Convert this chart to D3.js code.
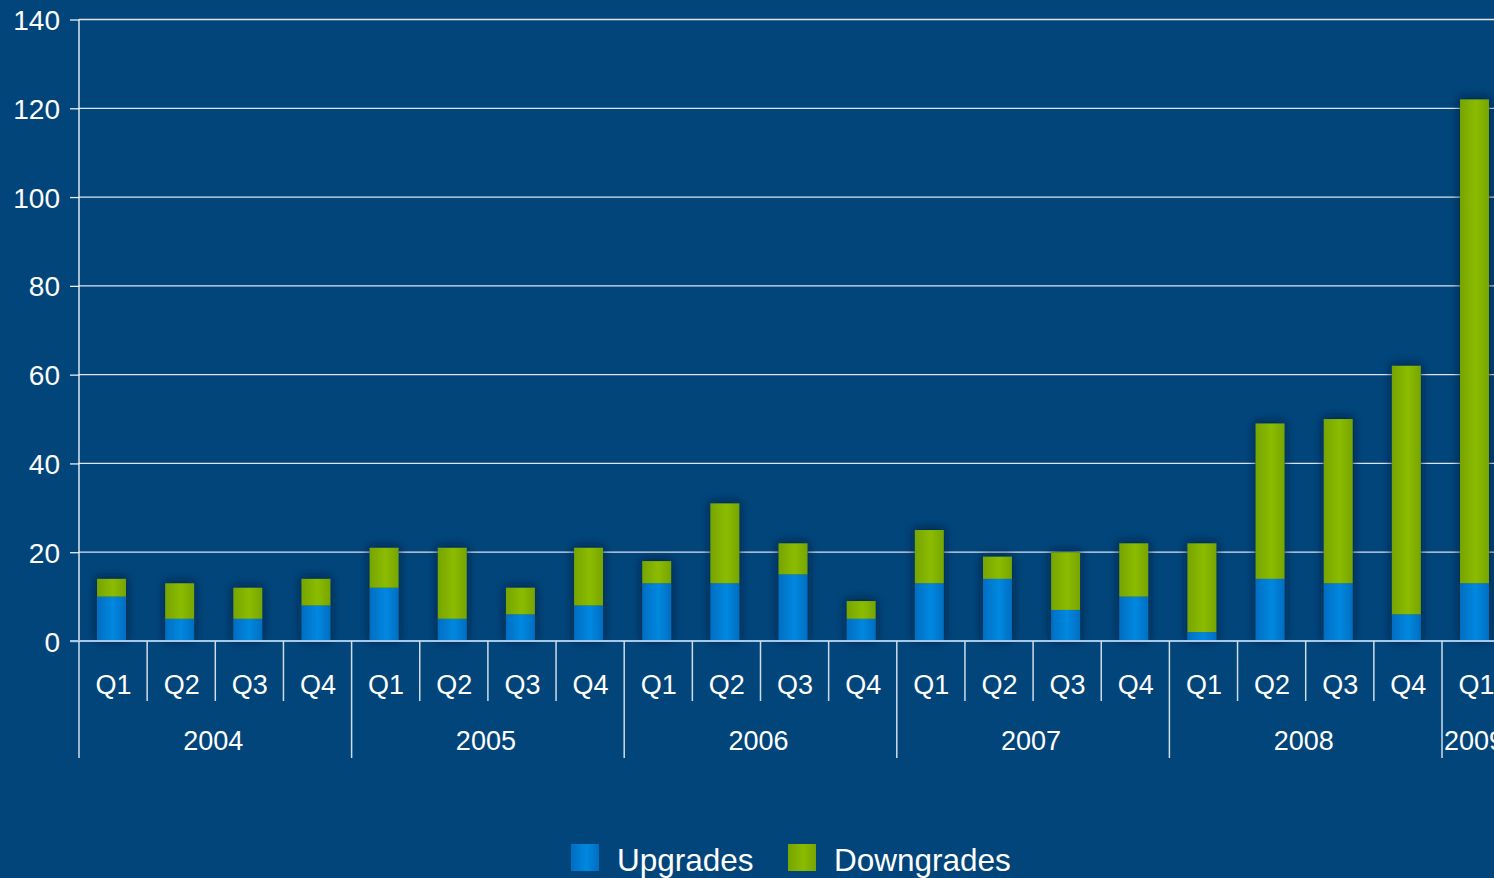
<!DOCTYPE html>
<html>
<head>
<meta charset="utf-8">
<script src="https://cdn.jsdelivr.net/npm/d3@7/dist/d3.min.js"></script>
<style>
body {
	margin: 0;
	background: #01457a;
	font-family: "Liberation Sans", Arial, sans-serif;
}
svg { display: block; }
.y-axis path { display: none; }
</style>
</head>
<body>
<svg id="chart" width="1494" height="878"></svg>
<script>
// 数据
var years = ["2004", "2005", "2006", "2007", "2008", "2009"];
var quarters = ["Q1", "Q2", "Q3", "Q4"];
var yearQuarterCount = [4, 4, 4, 4, 4, 1];
var upgrades   = [10, 5, 5, 8,  12, 5, 6, 8,  13, 13, 15, 5,  13, 14, 7, 10,  2, 14, 13, 6,  13];
var downgrades = [4, 8, 7, 6,   9, 16, 6, 13,  5, 18, 7, 4,   12, 5, 13, 12,  20, 35, 37, 56,  109];
var yTicks = [0, 20, 40, 60, 80, 100, 120, 140];
var seriesNames = ["Upgrades", "Downgrades"];

// 每个柱子的类别 (年-季度)
var periods = [];
years.forEach(function(y, i) {
    for (var q = 0; q < yearQuarterCount[i]; q++) {
        periods.push({year: y, q: quarters[q], key: y + "-" + quarters[q]});
    }
});

var svg = d3.select("#chart");
var plotLeft = 79, plotTop = 19.5, zeroY = 641;
var step = 68.15;
var plotRight = plotLeft + step * periods.length;

var x = d3.scaleBand()
    .domain(periods.map(function(d) { return d.key; }))
    .range([plotLeft, plotRight])
    .paddingInner(0.575)
    .paddingOuter(0.2875)
    .align(0.46);

var y = d3.scaleLinear()
    .domain([0, 140])
    .range([zeroY, plotTop]);

// 渐变和阴影
var defs = svg.append("defs");
function makeGrad(id, edge, mid) {
    var g = defs.append("linearGradient").attr("id", id)
        .attr("x1", "0%").attr("x2", "100%").attr("y1", "0%").attr("y2", "0%");
    g.append("stop").attr("offset", "0%").attr("stop-color", edge);
    g.append("stop").attr("offset", "55%").attr("stop-color", mid);
    g.append("stop").attr("offset", "100%").attr("stop-color", edge);
}
makeGrad("gUp", "#006ec2", "#0088e0");
makeGrad("gDown", "#78a400", "#8cbc00");
var f = defs.append("filter").attr("id", "shadow")
    .attr("x", "-50%").attr("y", "-50%").attr("width", "200%").attr("height", "200%");
f.append("feDropShadow").attr("dx", 0).attr("dy", -1).attr("stdDeviation", 5)
    .attr("flood-color", "#00172e").attr("flood-opacity", 0.85);

// 网格线
svg.append("g").selectAll("line")
    .data(yTicks.filter(function(d) { return d > 0; }))
    .enter().append("line")
    .attr("x1", plotLeft).attr("x2", 1494)
    .attr("y1", function(d) { return y(d); })
    .attr("y2", function(d) { return y(d); })
    .attr("stroke", "#dce6f2")
    .attr("stroke-width", 1.3);

// y轴
var yAxis = svg.append("g")
    .attr("class", "y-axis")
    .attr("transform", "translate(" + plotLeft + ",0)")
    .call(d3.axisLeft(y).tickValues(yTicks).tickSize(9).tickPadding(10));
yAxis.selectAll("line").attr("stroke", "#e8eef5").attr("stroke-width", 1.3);
yAxis.selectAll("text")
    .attr("fill", "#ffffff")
    .attr("font-size", 28)
    .attr("font-family", "'Liberation Sans', Arial, sans-serif")
    .attr("dy", "0.36em");
svg.append("line")
    .attr("x1", plotLeft).attr("x2", plotLeft)
    .attr("y1", y(140)).attr("y2", zeroY)
    .attr("stroke", "#ffffff").attr("stroke-width", 1.3);

// 堆叠柱
var stackData = periods.map(function(d, i) {
    return {key: d.key, Upgrades: upgrades[i], Downgrades: downgrades[i]};
});
var stacked = d3.stack().keys(seriesNames)(stackData);
var fills = {Upgrades: "url(#gUp)", Downgrades: "url(#gDown)"};

var barG = svg.append("g");
// 阴影层
barG.selectAll("rect.shadow")
    .data(stackData)
    .enter().append("rect")
    .attr("class", "shadow")
    .attr("x", function(d) { return x(d.key); })
    .attr("width", x.bandwidth())
    .attr("y", function(d) { return y(d.Upgrades + d.Downgrades); })
    .attr("height", function(d) { return zeroY - y(d.Upgrades + d.Downgrades); })
    .attr("fill", "#01457a")
    .attr("filter", "url(#shadow)");

barG.selectAll("g.series")
    .data(stacked)
    .enter().append("g")
    .attr("class", "series")
    .attr("fill", function(d) { return fills[d.key]; })
    .selectAll("rect")
    .data(function(d) { return d; })
    .enter().append("rect")
    .attr("x", function(d) { return x(d.data.key); })
    .attr("width", x.bandwidth())
    .attr("y", function(d) { return y(d[1]); })
    .attr("height", function(d) { return y(d[0]) - y(d[1]); });

// x轴基线
svg.append("line")
    .attr("x1", plotLeft - 9).attr("x2", 1494)
    .attr("y1", zeroY).attr("y2", zeroY)
    .attr("stroke", "#a8c8e8").attr("stroke-width", 2);

// 分隔线
var sepG = svg.append("g");
var yearStart = 0;
var yearSeps = [0];
yearQuarterCount.forEach(function(c) { yearStart += c; yearSeps.push(yearStart); });
for (var i = 0; i <= periods.length; i++) {
    var isYear = yearSeps.indexOf(i) >= 0;
    var sx = plotLeft + step * i;
    sepG.append("line")
        .attr("x1", sx).attr("x2", sx)
        .attr("y1", zeroY).attr("y2", isYear ? 758 : 701)
        .attr("stroke", "#d0dcea").attr("stroke-width", 1.5);
}

// 季度标签
svg.append("g").selectAll("text")
    .data(periods)
    .enter().append("text")
    .attr("x", function(d) { return x(d.key) + x.bandwidth() / 2 + 2; })
    .attr("y", 694)
    .attr("text-anchor", "middle")
    .attr("fill", "#ffffff")
    .attr("font-size", 27)
    .text(function(d) { return d.q; });

// 年份标签
var yearPos = [];
var acc = 0;
years.forEach(function(yr, i) {
    var x0 = plotLeft + step * acc, x1 = plotLeft + step * (acc + yearQuarterCount[i]);
    yearPos.push({year: yr, cx: (x0 + x1) / 2});
    acc += yearQuarterCount[i];
});
svg.append("g").selectAll("text")
    .data(yearPos)
    .enter().append("text")
    .attr("x", function(d) { return d.cx - 2; })
    .attr("y", 750)
    .attr("text-anchor", "middle")
    .attr("fill", "#ffffff")
    .attr("font-size", 27)
    .text(function(d) { return d.year; });

// 图例
var legend = [{name: "Upgrades", fill: "url(#gUp)", x: 571}, {name: "Downgrades", fill: "url(#gDown)", x: 788}];
var lg = svg.append("g").selectAll("g").data(legend).enter().append("g");
lg.append("rect")
    .attr("x", function(d) { return d.x; })
    .attr("y", 844)
    .attr("width", 28).attr("height", 27)
    .attr("fill", function(d) { return d.fill; });
lg.append("text")
    .attr("x", function(d) { return d.x + 46; })
    .attr("y", 871)
    .attr("fill", "#ffffff")
    .attr("font-size", 31.5)
    .text(function(d) { return d.name; });
</script>
</body>
</html>
